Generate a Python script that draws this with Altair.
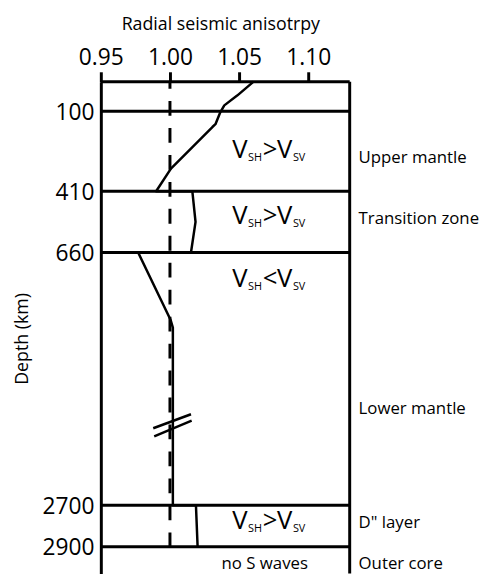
import altair as alt
import pandas as pd

# ---------------- data ----------------
x_ticks = [0.95, 1.00, 1.05, 1.10]
x_domain = [0.95, 1.13]
depth_ticks = [100, 410, 660, 2700, 2900]
boundary_depths = [0, 100, 410, 660, 2700, 2900]
depth_knots = [0, 100, 410, 660, 2700, 2900, 3100]

# radial anisotropy profile (xi = Vsh^2/Vsv^2) versus depth
curve_xi = [1.0605, 1.0486, 1.0393, 1.0364, 1.0329, 1.0307, 1.0007, 0.990,
            1.0162, 1.0185, 1.0152,
            0.977, 1.0004, 1.0021, 1.0021,
            1.0188, 1.0200]
curve_depth = [0, 47, 80, 104, 150, 161, 322, 410,
               410, 535, 660,
               660, 1202, 1266, 2700,
               2700, 2900]

# isotropic reference (xi = 1) down to the core-mantle boundary
ref_xi = [1.00]
ref_top = [0]
ref_bottom = [2900]

# scale-break marks on the profile
break_xa = [0.9879, 0.9886]
break_xb = [1.0152, 1.0157]
break_da = [2078, 2144]
break_db = [1965, 2017]

# anisotropy sign per layer
aniso_depth = [280, 543, 936, 2813]
aniso_sign = [">", ">", "<", ">"]

zone_names = ["Upper mantle", "Transition zone", "Lower mantle", 'D" layer', "Outer core"]
zone_depth = [299, 543, 1967, 2810, 3070]

core_note = ["no S waves"]
core_note_depth = [3070]

# ---------------- chart ----------------
FONT = "Open Sans"
W, H = 252, 498
depth_px = [0, 30, 111, 173, 429, 471, 498]

X_SCALE = alt.Scale(domain=x_domain, nice=False, zero=False)
Y_SCALE = alt.Scale(domain=depth_knots, range=depth_px, nice=False, zero=False)

X_AXIS = alt.Axis(
    orient="top", values=x_ticks, format=".2f", grid=False, domain=False,
    tickSize=10, tickWidth=3, tickColor="black",
    labelFont=FONT, labelFontSize=23, labelColor="black", labelPadding=2,
    labelFlush=False, labelOverlap=False,
    title="Radial seismic anisotrpy", titleFont=FONT, titleFontSize=18,
    titleFontWeight="normal", titleColor="black", titleX=121, titleY=-53,
    titleAlign="center", titleBaseline="alphabetic",
)
Y_AXIS = alt.Axis(
    orient="left", values=depth_ticks, format="d", grid=False, ticks=False,
    domain=True, domainColor="black", domainWidth=3,
    labelFont=FONT, labelFontSize=23, labelColor="black", labelPadding=7,
    labelOffset=1, labelOverlap=False, labelFlush=False,
    title="Depth (km)", titleFont=FONT, titleFontSize=18,
    titleFontWeight="normal", titleColor="black", titleX=-74, titleY=260,
    titleAlign="center", titleBaseline="alphabetic", titleAngle=270,
)


def X(f):
    return alt.X(f, type="quantitative", scale=X_SCALE, axis=X_AXIS)


def Y(f):
    return alt.Y(f, type="quantitative", scale=Y_SCALE, axis=Y_AXIS)


bounds_df = pd.DataFrame({"depth": boundary_depths,
                          "xa": [x_domain[0]] * len(boundary_depths),
                          "xb": [x_domain[1]] * len(boundary_depths)})
bounds = alt.Chart(bounds_df).mark_rule(color="black", strokeWidth=3).encode(
    x=X("xa"), x2="xb", y=Y("depth"))

border_df = pd.DataFrame({"xi": [x_domain[1]], "d0": [depth_knots[0]], "d1": [depth_knots[-1]]})
border = alt.Chart(border_df).mark_rule(color="black", strokeWidth=3).encode(
    x=X("xi"), y=Y("d0"), y2="d1")

ref_df = pd.DataFrame({"xi": ref_xi, "d0": ref_top, "d1": ref_bottom})
ref = alt.Chart(ref_df).mark_rule(color="black", strokeWidth=3,
                                  strokeDash=[15, 12.3], strokeDashOffset=7.7).encode(
    x=X("xi"), y=Y("d0"), y2="d1")

curve_df = pd.DataFrame({"xi": curve_xi, "depth": curve_depth,
                         "idx": list(range(len(curve_xi)))})
curve = alt.Chart(curve_df).mark_line(color="black", strokeWidth=2.5,
                                      strokeJoin="round").encode(
    x=X("xi"), y=Y("depth"), order="idx")

break_df = pd.DataFrame({"xa": break_xa, "xb": break_xb, "da": break_da, "db": break_db})
breaks = alt.Chart(break_df).mark_rule(color="black", strokeWidth=2.5).encode(
    x=X("xa"), x2="xb", y=Y("da"), y2="db")

an_df = pd.DataFrame({"depth": aniso_depth, "sign": aniso_sign})
LBL_X = 170


def piece(text, dx, size, dy=0, field=False):
    kw = dict(align="left", baseline="alphabetic", font=FONT, fontSize=size,
              color="black", dx=dx, dy=dy)
    if not field:
        kw["text"] = text
    m = alt.Chart(an_df).mark_text(**kw)
    enc = dict(x=alt.value(LBL_X), y=Y("depth"))
    if field:
        enc["text"] = alt.Text("sign:N")
    return m.encode(**enc)


v1 = piece("V", -37, 26)
sh = piece("SH", -21, 11, dy=3.5)
sg = piece(None, -6, 26, field=True)
v2 = piece("V", 8.5, 26)
sv = piece("SV", 24.5, 11, dy=3.5)

zone_df = pd.DataFrame({"depth": zone_depth, "name": zone_names})
zones = alt.Chart(zone_df).mark_text(align="left", baseline="alphabetic", font=FONT,
                                     fontSize=17, color="black").encode(
    x=alt.value(261), y=Y("depth"), text="name:N")

note_df = pd.DataFrame({"depth": core_note_depth, "name": core_note})
note = alt.Chart(note_df).mark_text(align="center", baseline="alphabetic", font=FONT,
                                    fontSize=17, color="black").encode(
    x=alt.value(166), y=Y("depth"), text="name:N")

chart = alt.layer(bounds, border, ref, curve, breaks, v1, sh, sg, v2, sv, zones, note).properties(
    width=W, height=H,
    autosize=alt.AutoSizeParams(type="none"),
    padding={"left": 94, "top": 71, "right": 136, "bottom": 0},
    background="white",
).configure_view(stroke=None)

chart.save("out.html", embed_options={"renderer": "svg", "actions": False})
